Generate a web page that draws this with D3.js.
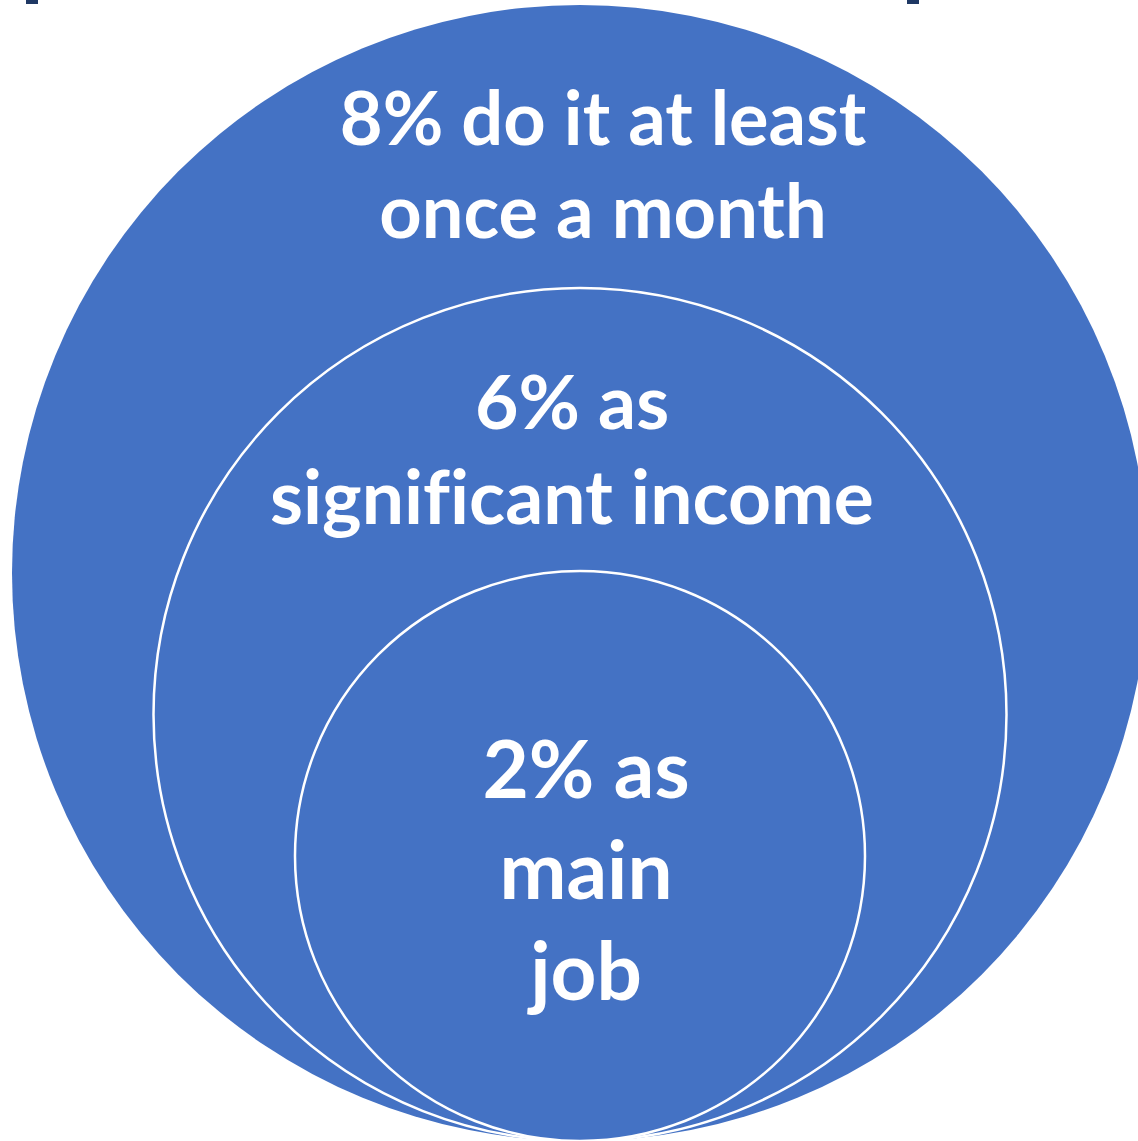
<!DOCTYPE html>
<html>
<head>
<meta charset="utf-8">
<script src="https://cdn.jsdelivr.net/npm/d3@7"></script>
<style>
  html, body { margin: 0; padding: 0; background: #fff; }
</style>
</head>
<body>
<div id="chart"></div>
<script>
// nested levels, outer to inner
var levels = ["monthly", "significant", "main"];
var values = [8, 6, 2];
var labels = [
    ["8% do it at least", "once a month"],
    ["6% as", "significant income"],
    ["2% as", "main", "job"]
];

var width = 1138, height = 1141;
var cx = 580, bottom = 1141;

var svg = d3.select("#chart")
  .append("svg")
    .attr("width", width)
    .attr("height", height);

// radii step down evenly from outer to inner circle
var r = d3.scalePoint()
    .domain(levels)
    .range([568, 285]);

// small dark marks left over at the top edge
svg.selectAll("rect.mark")
    .data([26, 907])
    .enter()
    .append("rect")
    .attr("class", "mark")
    .attr("x", function(d) { return d; })
    .attr("y", 0)
    .attr("width", 12)
    .attr("height", 4)
    .style("fill", "#1f3864");

svg.selectAll("circle")
    .data(levels)
    .enter()
    .append("circle")
    .attr("cx", cx)
    .attr("cy", function(d) { return bottom - r(d); })
    .attr("r", function(d) { return r(d); })
    .style("fill", "#4472c4")
    .style("stroke", "#fff")
    .style("stroke-width", function(d, i) { return i == 0 ? 0 : 2.5; });

// where the first line sits below each circle's top, and x shift
var firstLine = [140, 141, 227];
var shiftX = [23, -8, 6];
var lineGap = [93, 95, 101];
var fontSize = [74, 75, 80];

levels.forEach(function(lv, i) {
    var top = bottom - 2 * r(lv);
    var t = svg.append("text")
        .attr("text-anchor", "middle")
        .style("font-family", "Lato, 'Open Sans', sans-serif")
        .style("font-weight", "bold")
        .style("font-variant-ligatures", "none")
        .style("font-size", fontSize[i] + "px")
        .style("fill", "#fff");
    labels[i].forEach(function(line, j) {
        t.append("tspan")
            .attr("x", cx + shiftX[i])
            .attr("y", top + firstLine[i] + j * lineGap[i])
            .text(line);
    });
});
</script>
</body>
</html>
